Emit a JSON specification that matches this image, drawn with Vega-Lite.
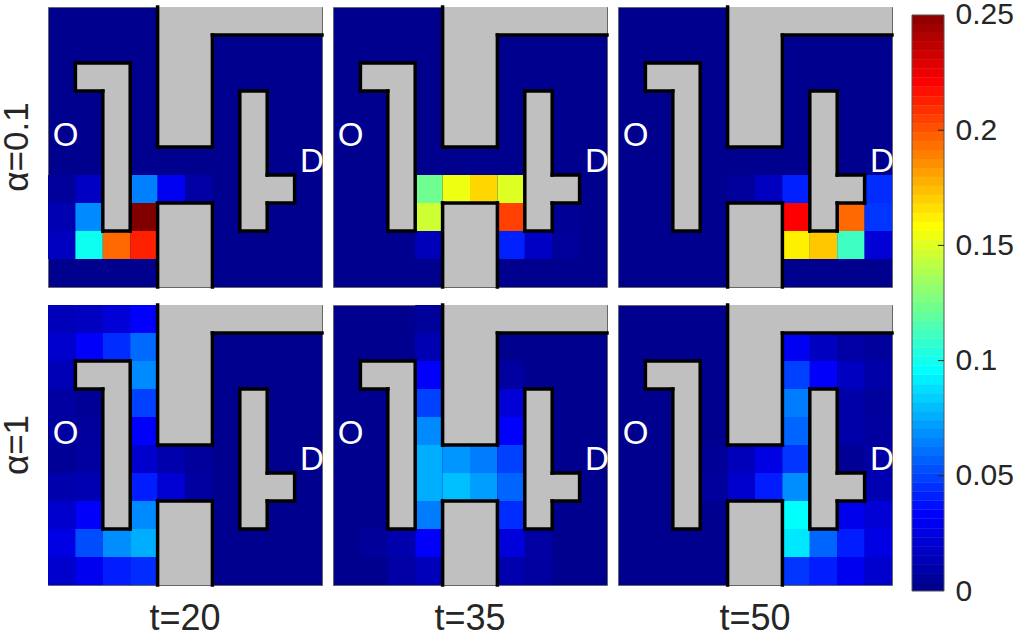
{"$schema":"https://vega.github.io/schema/vega-lite/v6.json","background":"white","padding":{"left":0,"top":-1,"right":0,"bottom":0},"spacing":16,
"config":{"font":"Liberation Sans"},
"datasets":{
"cells":[
{"a":"α=0.1","t":"t=20","c":0,"d":1,"r":6,"s":7,"v":0.003},{"a":"α=0.1","t":"t=20","c":1,"d":2,"r":6,"s":7,"v":0.015},{"a":"α=0.1","t":"t=20","c":3,"d":4,"r":6,"s":7,"v":0.0625},{"a":"α=0.1","t":"t=20","c":4,"d":5,"r":6,"s":7,"v":0.028},{"a":"α=0.1","t":"t=20","c":5,"d":6,"r":6,"s":7,"v":0.006},
{"a":"α=0.1","t":"t=20","c":0,"d":1,"r":7,"s":8,"v":0.01},{"a":"α=0.1","t":"t=20","c":1,"d":2,"r":7,"s":8,"v":0.065},{"a":"α=0.1","t":"t=20","c":3,"d":4,"r":7,"s":8,"v":0.25},
{"a":"α=0.1","t":"t=20","c":0,"d":1,"r":8,"s":9,"v":0.014},{"a":"α=0.1","t":"t=20","c":1,"d":2,"r":8,"s":9,"v":0.097},{"a":"α=0.1","t":"t=20","c":2,"d":3,"r":8,"s":9,"v":0.193},{"a":"α=0.1","t":"t=20","c":3,"d":4,"r":8,"s":9,"v":0.211},
{"a":"α=0.1","t":"t=35","c":3,"d":4,"r":6,"s":7,"v":0.121},{"a":"α=0.1","t":"t=35","c":4,"d":5,"r":6,"s":7,"v":0.152},{"a":"α=0.1","t":"t=35","c":5,"d":6,"r":6,"s":7,"v":0.166},{"a":"α=0.1","t":"t=35","c":6,"d":7,"r":6,"s":7,"v":0.148},
{"a":"α=0.1","t":"t=35","c":3,"d":4,"r":7,"s":8,"v":0.144},{"a":"α=0.1","t":"t=35","c":6,"d":7,"r":7,"s":8,"v":0.203},{"a":"α=0.1","t":"t=35","c":8,"d":9,"r":7,"s":8,"v":0.002},
{"a":"α=0.1","t":"t=35","c":3,"d":4,"r":8,"s":9,"v":0.012},{"a":"α=0.1","t":"t=35","c":6,"d":7,"r":8,"s":9,"v":0.039},{"a":"α=0.1","t":"t=35","c":7,"d":8,"r":8,"s":9,"v":0.015},{"a":"α=0.1","t":"t=35","c":8,"d":9,"r":8,"s":9,"v":0.003},
{"a":"α=0.1","t":"t=50","c":4,"d":5,"r":6,"s":7,"v":0.004},{"a":"α=0.1","t":"t=50","c":5,"d":6,"r":6,"s":7,"v":0.014},{"a":"α=0.1","t":"t=50","c":6,"d":7,"r":6,"s":7,"v":0.039},{"a":"α=0.1","t":"t=50","c":9,"d":10,"r":6,"s":7,"v":0.042},
{"a":"α=0.1","t":"t=50","c":6,"d":7,"r":7,"s":8,"v":0.219},{"a":"α=0.1","t":"t=50","c":8,"d":9,"r":7,"s":8,"v":0.193},{"a":"α=0.1","t":"t=50","c":9,"d":10,"r":7,"s":8,"v":0.044},
{"a":"α=0.1","t":"t=50","c":6,"d":7,"r":8,"s":9,"v":0.16},{"a":"α=0.1","t":"t=50","c":7,"d":8,"r":8,"s":9,"v":0.17},{"a":"α=0.1","t":"t=50","c":8,"d":9,"r":8,"s":9,"v":0.109},{"a":"α=0.1","t":"t=50","c":9,"d":10,"r":8,"s":9,"v":0.02},
{"a":"α=1","t":"t=20","c":0,"d":1,"r":0,"s":1,"v":0.012},{"a":"α=1","t":"t=20","c":0,"d":1,"r":1,"s":2,"v":0.017},{"a":"α=1","t":"t=20","c":0,"d":1,"r":2,"s":3,"v":0.011},{"a":"α=1","t":"t=20","c":0,"d":1,"r":3,"s":4,"v":0.005},{"a":"α=1","t":"t=20","c":0,"d":1,"r":4,"s":5,"v":0.005},{"a":"α=1","t":"t=20","c":0,"d":1,"r":5,"s":6,"v":0.002},{"a":"α=1","t":"t=20","c":0,"d":1,"r":6,"s":7,"v":0.008},{"a":"α=1","t":"t=20","c":0,"d":1,"r":7,"s":8,"v":0.017},{"a":"α=1","t":"t=20","c":0,"d":1,"r":8,"s":9,"v":0.024},{"a":"α=1","t":"t=20","c":0,"d":1,"r":9,"s":10,"v":0.017},
{"a":"α=1","t":"t=20","c":1,"d":2,"r":0,"s":1,"v":0.014},{"a":"α=1","t":"t=20","c":1,"d":2,"r":1,"s":2,"v":0.03},{"a":"α=1","t":"t=20","c":1,"d":2,"r":3,"s":4,"v":0.002},{"a":"α=1","t":"t=20","c":1,"d":2,"r":4,"s":5,"v":0.004},{"a":"α=1","t":"t=20","c":1,"d":2,"r":5,"s":6,"v":0.005},{"a":"α=1","t":"t=20","c":1,"d":2,"r":6,"s":7,"v":0.01},{"a":"α=1","t":"t=20","c":1,"d":2,"r":7,"s":8,"v":0.03},{"a":"α=1","t":"t=20","c":1,"d":2,"r":8,"s":9,"v":0.05},{"a":"α=1","t":"t=20","c":1,"d":2,"r":9,"s":10,"v":0.027},
{"a":"α=1","t":"t=20","c":2,"d":3,"r":0,"s":1,"v":0.02},{"a":"α=1","t":"t=20","c":2,"d":3,"r":1,"s":2,"v":0.042},{"a":"α=1","t":"t=20","c":2,"d":3,"r":8,"s":9,"v":0.066},{"a":"α=1","t":"t=20","c":2,"d":3,"r":9,"s":10,"v":0.038},
{"a":"α=1","t":"t=20","c":3,"d":4,"r":0,"s":1,"v":0.03},{"a":"α=1","t":"t=20","c":3,"d":4,"r":1,"s":2,"v":0.057},{"a":"α=1","t":"t=20","c":3,"d":4,"r":2,"s":3,"v":0.065},{"a":"α=1","t":"t=20","c":3,"d":4,"r":3,"s":4,"v":0.047},{"a":"α=1","t":"t=20","c":3,"d":4,"r":4,"s":5,"v":0.03},{"a":"α=1","t":"t=20","c":3,"d":4,"r":5,"s":6,"v":0.017},{"a":"α=1","t":"t=20","c":3,"d":4,"r":6,"s":7,"v":0.038},{"a":"α=1","t":"t=20","c":3,"d":4,"r":7,"s":8,"v":0.065},{"a":"α=1","t":"t=20","c":3,"d":4,"r":8,"s":9,"v":0.074},{"a":"α=1","t":"t=20","c":3,"d":4,"r":9,"s":10,"v":0.042},
{"a":"α=1","t":"t=20","c":4,"d":5,"r":5,"s":6,"v":0.008},{"a":"α=1","t":"t=20","c":4,"d":5,"r":6,"s":7,"v":0.019},{"a":"α=1","t":"t=20","c":5,"d":6,"r":5,"s":6,"v":0.004},{"a":"α=1","t":"t=20","c":5,"d":6,"r":6,"s":7,"v":0.005},
{"a":"α=1","t":"t=35","c":3,"d":4,"r":0,"s":1,"v":0.003},{"a":"α=1","t":"t=35","c":3,"d":4,"r":1,"s":2,"v":0.01},{"a":"α=1","t":"t=35","c":3,"d":4,"r":2,"s":3,"v":0.03},{"a":"α=1","t":"t=35","c":3,"d":4,"r":3,"s":4,"v":0.047},{"a":"α=1","t":"t=35","c":3,"d":4,"r":4,"s":5,"v":0.065},{"a":"α=1","t":"t=35","c":3,"d":4,"r":5,"s":6,"v":0.074},{"a":"α=1","t":"t=35","c":3,"d":4,"r":6,"s":7,"v":0.074},{"a":"α=1","t":"t=35","c":3,"d":4,"r":7,"s":8,"v":0.062},{"a":"α=1","t":"t=35","c":3,"d":4,"r":8,"s":9,"v":0.03},{"a":"α=1","t":"t=35","c":3,"d":4,"r":9,"s":10,"v":0.012},
{"a":"α=1","t":"t=35","c":4,"d":5,"r":5,"s":6,"v":0.068},{"a":"α=1","t":"t=35","c":4,"d":5,"r":6,"s":7,"v":0.078},{"a":"α=1","t":"t=35","c":5,"d":6,"r":5,"s":6,"v":0.062},{"a":"α=1","t":"t=35","c":5,"d":6,"r":6,"s":7,"v":0.07},
{"a":"α=1","t":"t=35","c":6,"d":7,"r":2,"s":3,"v":0.005},{"a":"α=1","t":"t=35","c":6,"d":7,"r":3,"s":4,"v":0.02},{"a":"α=1","t":"t=35","c":6,"d":7,"r":4,"s":5,"v":0.03},{"a":"α=1","t":"t=35","c":6,"d":7,"r":5,"s":6,"v":0.047},{"a":"α=1","t":"t=35","c":6,"d":7,"r":6,"s":7,"v":0.056},{"a":"α=1","t":"t=35","c":6,"d":7,"r":7,"s":8,"v":0.042},{"a":"α=1","t":"t=35","c":6,"d":7,"r":8,"s":9,"v":0.021},{"a":"α=1","t":"t=35","c":6,"d":7,"r":9,"s":10,"v":0.009},
{"a":"α=1","t":"t=35","c":7,"d":8,"r":8,"s":9,"v":0.006},{"a":"α=1","t":"t=35","c":7,"d":8,"r":9,"s":10,"v":0.005},{"a":"α=1","t":"t=35","c":1,"d":2,"r":8,"s":9,"v":0.003},{"a":"α=1","t":"t=35","c":2,"d":3,"r":8,"s":9,"v":0.008},{"a":"α=1","t":"t=35","c":2,"d":3,"r":9,"s":10,"v":0.006},
{"a":"α=1","t":"t=50","c":3,"d":4,"r":5,"s":6,"v":0.002},{"a":"α=1","t":"t=50","c":3,"d":4,"r":6,"s":7,"v":0.004},{"a":"α=1","t":"t=50","c":4,"d":5,"r":5,"s":6,"v":0.012},{"a":"α=1","t":"t=50","c":4,"d":5,"r":6,"s":7,"v":0.017},{"a":"α=1","t":"t=50","c":5,"d":6,"r":5,"s":6,"v":0.024},{"a":"α=1","t":"t=50","c":5,"d":6,"r":6,"s":7,"v":0.038},
{"a":"α=1","t":"t=50","c":6,"d":7,"r":1,"s":2,"v":0.028},{"a":"α=1","t":"t=50","c":6,"d":7,"r":2,"s":3,"v":0.047},{"a":"α=1","t":"t=50","c":6,"d":7,"r":3,"s":4,"v":0.062},{"a":"α=1","t":"t=50","c":6,"d":7,"r":4,"s":5,"v":0.056},{"a":"α=1","t":"t=50","c":6,"d":7,"r":5,"s":6,"v":0.044},{"a":"α=1","t":"t=50","c":6,"d":7,"r":6,"s":7,"v":0.066},{"a":"α=1","t":"t=50","c":6,"d":7,"r":7,"s":8,"v":0.094},{"a":"α=1","t":"t=50","c":6,"d":7,"r":8,"s":9,"v":0.088},{"a":"α=1","t":"t=50","c":6,"d":7,"r":9,"s":10,"v":0.044},
{"a":"α=1","t":"t=50","c":7,"d":8,"r":1,"s":2,"v":0.014},{"a":"α=1","t":"t=50","c":7,"d":8,"r":2,"s":3,"v":0.03},{"a":"α=1","t":"t=50","c":7,"d":8,"r":8,"s":9,"v":0.056},{"a":"α=1","t":"t=50","c":7,"d":8,"r":9,"s":10,"v":0.038},
{"a":"α=1","t":"t=50","c":8,"d":9,"r":1,"s":2,"v":0.006},{"a":"α=1","t":"t=50","c":8,"d":9,"r":2,"s":3,"v":0.014},{"a":"α=1","t":"t=50","c":8,"d":9,"r":3,"s":4,"v":0.007},{"a":"α=1","t":"t=50","c":8,"d":9,"r":4,"s":5,"v":0.007},{"a":"α=1","t":"t=50","c":8,"d":9,"r":5,"s":6,"v":0.002},{"a":"α=1","t":"t=50","c":8,"d":9,"r":7,"s":8,"v":0.026},{"a":"α=1","t":"t=50","c":8,"d":9,"r":8,"s":9,"v":0.038},{"a":"α=1","t":"t=50","c":8,"d":9,"r":9,"s":10,"v":0.027},
{"a":"α=1","t":"t=50","c":9,"d":10,"r":1,"s":2,"v":0.004},{"a":"α=1","t":"t=50","c":9,"d":10,"r":2,"s":3,"v":0.007},{"a":"α=1","t":"t=50","c":9,"d":10,"r":3,"s":4,"v":0.004},{"a":"α=1","t":"t=50","c":9,"d":10,"r":4,"s":5,"v":0.005},{"a":"α=1","t":"t=50","c":9,"d":10,"r":5,"s":6,"v":0.006},{"a":"α=1","t":"t=50","c":9,"d":10,"r":6,"s":7,"v":0.01},{"a":"α=1","t":"t=50","c":9,"d":10,"r":7,"s":8,"v":0.02},{"a":"α=1","t":"t=50","c":9,"d":10,"r":8,"s":9,"v":0.024},{"a":"α=1","t":"t=50","c":9,"d":10,"r":9,"s":10,"v":0.017}
],
"walls":[{"c":4,"d":10,"r":0,"s":1},{"c":4,"d":6,"r":0,"s":5},{"c":1,"d":3,"r":2,"s":3},{"c":2,"d":3,"r":2,"s":8},{"c":7,"d":8,"r":3,"s":8},{"c":7,"d":9,"r":6,"s":7},{"c":4,"d":6,"r":7,"s":10}],
"edges":[{"c":4,"d":4,"r":0,"s":5},{"c":4,"d":6,"r":5,"s":5},{"c":6,"d":6,"r":1,"s":5},{"c":6,"d":10,"r":1,"s":1},
{"c":1,"d":3,"r":2,"s":2},{"c":3,"d":3,"r":2,"s":8},{"c":2,"d":3,"r":8,"s":8},{"c":2,"d":2,"r":3,"s":8},{"c":1,"d":2,"r":3,"s":3},{"c":1,"d":1,"r":2,"s":3},
{"c":7,"d":8,"r":3,"s":3},{"c":8,"d":8,"r":3,"s":6},{"c":8,"d":9,"r":6,"s":6},{"c":9,"d":9,"r":6,"s":7},{"c":8,"d":9,"r":7,"s":7},{"c":8,"d":8,"r":7,"s":8},{"c":7,"d":8,"r":8,"s":8},{"c":7,"d":7,"r":3,"s":8},
{"c":4,"d":4,"r":7,"s":10},{"c":4,"d":6,"r":7,"s":7},{"c":6,"d":6,"r":7,"s":10}],
"places":[{"name":"O","c":0.64,"r":4.62},{"name":"D","c":9.63,"r":5.52}],
"levels":[{"a":0,"b":0.0039},{"a":0.0039,"b":0.0078},{"a":0.0078,"b":0.0117},{"a":0.0117,"b":0.0156},{"a":0.0156,"b":0.0195},{"a":0.0195,"b":0.0234},{"a":0.0234,"b":0.0273},{"a":0.0273,"b":0.0313},{"a":0.0313,"b":0.0352},{"a":0.0352,"b":0.0391},{"a":0.0391,"b":0.043},{"a":0.043,"b":0.0469},{"a":0.0469,"b":0.0508},{"a":0.0508,"b":0.0547},{"a":0.0547,"b":0.0586},{"a":0.0586,"b":0.0625},{"a":0.0625,"b":0.0664},{"a":0.0664,"b":0.0703},{"a":0.0703,"b":0.0742},{"a":0.0742,"b":0.0781},{"a":0.0781,"b":0.082},{"a":0.082,"b":0.0859},{"a":0.0859,"b":0.0898},{"a":0.0898,"b":0.0938},{"a":0.0938,"b":0.0977},{"a":0.0977,"b":0.1016},{"a":0.1016,"b":0.1055},{"a":0.1055,"b":0.1094},{"a":0.1094,"b":0.1133},{"a":0.1133,"b":0.1172},{"a":0.1172,"b":0.1211},{"a":0.1211,"b":0.125},{"a":0.125,"b":0.1289},{"a":0.1289,"b":0.1328},{"a":0.1328,"b":0.1367},{"a":0.1367,"b":0.1406},{"a":0.1406,"b":0.1445},{"a":0.1445,"b":0.1484},{"a":0.1484,"b":0.1523},{"a":0.1523,"b":0.1563},{"a":0.1563,"b":0.1602},{"a":0.1602,"b":0.1641},{"a":0.1641,"b":0.168},{"a":0.168,"b":0.1719},{"a":0.1719,"b":0.1758},{"a":0.1758,"b":0.1797},{"a":0.1797,"b":0.1836},{"a":0.1836,"b":0.1875},{"a":0.1875,"b":0.1914},{"a":0.1914,"b":0.1953},{"a":0.1953,"b":0.1992},{"a":0.1992,"b":0.2031},{"a":0.2031,"b":0.207},{"a":0.207,"b":0.2109},{"a":0.2109,"b":0.2148},{"a":0.2148,"b":0.2188},{"a":0.2188,"b":0.2227},{"a":0.2227,"b":0.2266},{"a":0.2266,"b":0.2305},{"a":0.2305,"b":0.2344},{"a":0.2344,"b":0.2383},{"a":0.2383,"b":0.2422},{"a":0.2422,"b":0.2461},{"a":0.2461,"b":0.25}]
},
"hconcat":[
{"data":{"name":"cells"},"spacing":{"row":18,"column":11},"bounds":"flush",
"facet":{
"row":{"field":"a","type":"nominal","sort":["α=0.1","α=1"],"title":null,"header":{"labelOrient":"left","labelAngle":-90,"labelFontSize":35,"labelColor":"#262626","labelFont":"Liberation Sans","labelPadding":13,"labelAnchor":"middle","labelBaseline":"top"}},
"column":{"field":"t","type":"nominal","sort":["t=20","t=35","t=50"],"title":null,"header":{"labelOrient":"bottom","labelFontSize":36,"labelColor":"#262626","labelFont":"Liberation Sans","labelPadding":17,"labelBaseline":"top"}}},
"spec":{"width":274,"height":280,"view":{"fill":"#00008f","stroke":"#666666"},
"layer":[
{"mark":{"type":"rect","stroke":null},"encoding":{
"x":{"field":"c","type":"quantitative","scale":{"domain":[0,10],"nice":false,"zero":false},"axis":null},"x2":{"field":"d"},
"y":{"field":"r","type":"quantitative","scale":{"domain":[0,10],"nice":false,"zero":false,"reverse":true},"axis":null},"y2":{"field":"s"},
"color":{"field":"v","type":"quantitative","legend":null,"scale":{"domain":[0,0.03125,0.09375,0.15625,0.21875,0.25],"range":["#00008f","#0000ff","#00ffff","#ffff00","#ff0000","#800000"],"interpolate":"rgb"}}}},
{"data":{"name":"walls"},"mark":{"type":"rect","fill":"#c0c0c0","stroke":null},"encoding":{
"x":{"field":"c","type":"quantitative"},"x2":{"field":"d"},"y":{"field":"r","type":"quantitative"},"y2":{"field":"s"}}},
{"data":{"name":"edges"},"mark":{"type":"rule","color":"#000000","strokeWidth":3.5,"strokeCap":"square"},"encoding":{
"x":{"field":"c","type":"quantitative"},"x2":{"field":"d"},"y":{"field":"r","type":"quantitative"},"y2":{"field":"s"}}},
{"data":{"name":"places"},"mark":{"type":"text","color":"#ffffff","fontSize":33,"font":"Liberation Sans","align":"center","baseline":"middle"},"encoding":{
"x":{"field":"c","type":"quantitative"},"y":{"field":"r","type":"quantitative"},"text":{"field":"name"}}}
]}},
{"width":32,"height":584,"view":{"stroke":null},
"layer":[
{"data":{"name":"levels"},"mark":{"type":"rect","stroke":null},"encoding":{
"y":{"field":"a","type":"quantitative","scale":{"domain":[0,0.25347],"nice":false,"zero":false},"axis":{"orient":"right","values":[0,0.05,0.1,0.15,0.2,0.25],"format":"~g","title":null,"grid":false,"domain":false,"ticks":false,"labelFontSize":30,"labelColor":"#262626","labelFont":"Liberation Sans","labelPadding":11,"labelFlush":false}},"y2":{"field":"b"},
"color":{"field":"a","type":"quantitative","legend":null,"scale":{"domain":[0,0.03125,0.09375,0.15625,0.21875,0.25],"range":["#00008f","#0000ff","#00ffff","#ffff00","#ff0000","#800000"],"interpolate":"rgb"}}}},
{"data":{"values":[{"a":0,"b":0.25}]},"mark":{"type":"rect","fill":null,"stroke":"#555555","strokeWidth":1},"encoding":{"y":{"field":"a","type":"quantitative"},"y2":{"field":"b"}}},
{"data":{"values":[{"v":0.05,"p":0.81,"q":1},{"v":0.1,"p":0.81,"q":1},{"v":0.15,"p":0.81,"q":1},{"v":0.2,"p":0.81,"q":1}]},"mark":{"type":"rule","color":"#262626","strokeWidth":1},"encoding":{"x":{"field":"p","type":"quantitative","scale":{"domain":[0,1],"nice":false,"zero":false},"axis":null},"x2":{"field":"q"},"y":{"field":"v","type":"quantitative"}}}
]}
]}
